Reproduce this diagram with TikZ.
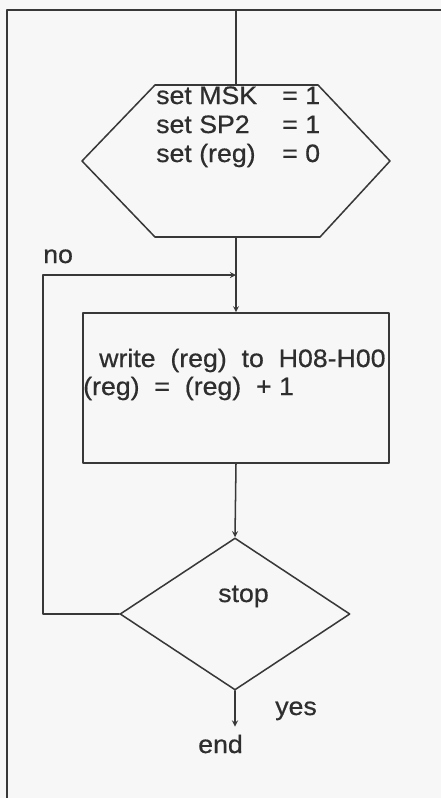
\documentclass[tikz,border=0pt]{standalone}
\usepackage{fontspec}
\setmainfont{Liberation Sans}[FakeStretch=1.06,FakeBold=0.6]
\usetikzlibrary{shapes.geometric}
\begin{document}
\begin{tikzpicture}[line cap=round,line join=round,>=stealth,x=0.03cm,y=-0.03cm,
	every node/.style={inner sep=0pt,text=black!82,font=\fontsize{21.5}{25}\selectfont},
	flow/.style={draw=black!78,line width=1.3pt}]
				\fill[black!3] (0,0) rectangle (441,798);
				\useasboundingbox (0,0) rectangle (441,798);
				\coordinate (fTL) at (7,10);
				\draw [flow] (441,10)-- (fTL)-- (7,798);
				\coordinate (hexN) at (236,85);
				\coordinate (hexS) at (236,237);
				\coordinate (loopin) at (236,275);
				\draw [flow] (82,161)-- (155,85)-- (hexN)-- (318,85)-- (390,161)-- (320,237)-- (hexS)-- (155,237)-- cycle;
				\node[anchor=base west] (msk) at (156,104) {\makebox[3.78cm][l]{set MSK}= 1};
				\node[anchor=base west] (sp2) at (156,133) {\makebox[3.78cm][l]{set SP2}= 1};
				\node[anchor=base west] (reg) at (156,162) {\makebox[3.78cm][l]{set (reg)}= 0};
				\node[flow,minimum width=9.18cm,minimum height=4.5cm] (wrbox) at (236,388) {};
				\node[anchor=base west] (wr1) at (99,367) {write\ \ (reg)\ \ to\ \ H08-H00};
				\node[anchor=base west] (wr2) at (83,395) {(reg)\ \ =\ \ (reg)\ \ +\ 1};
				\node[flow,diamond,minimum width=6.9cm,minimum height=4.56cm] (stop) at (235,614) {};
				\node[anchor=base west] (stoptxt) at (218,602) {stop};
				\node[anchor=base west,inner ysep=0.24cm] (endtxt) at (198,753) {end};
				\node[anchor=base west] (notxt) at (43,263) {no};
				\node[anchor=base west] (yestxt) at (275,715) {yes};
				\draw [flow] (fTL -| hexN)-- (hexN);
				\draw [flow,->] (hexS)-- (wrbox.north);
				\draw [flow,->] (wrbox.south)-- (stop.north);
				\draw [flow,->] (stop.west)-- ++(-76,0) |- (loopin);
				\draw [flow,->] (stop.south)-- (stop.south |- endtxt.north);
			\end{tikzpicture}
\end{document}
